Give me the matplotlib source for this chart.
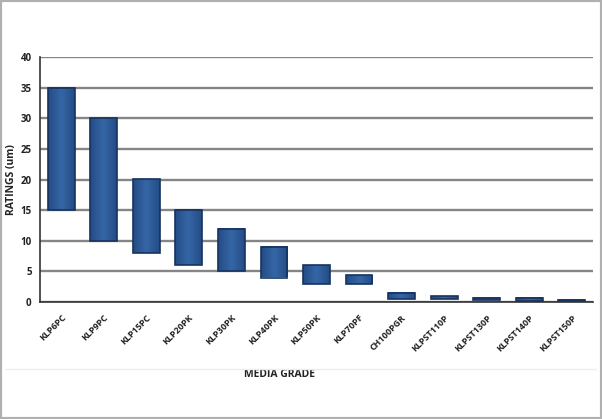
import matplotlib
matplotlib.use("Agg")
import matplotlib.pyplot as plt
import numpy as np
from matplotlib.patches import Rectangle
from matplotlib.colors import LinearSegmentedColormap

categories = ["KLP6PC", "KLP9PC", "KLP15PC", "KLP20PK", "KLP30PK", "KLP40PK", "KLP50PK",
              "KLP70PF", "CH100PGR", "KLPST110P", "KLPST130P", "KLPST140P", "KLPST150P"]
low_values = [15, 10, 8, 6, 5, 4, 3, 3, 0.5, 0.45, 0.3, 0.15, 0.1]
high_values = [35, 30, 20, 15, 12, 9, 6, 4.4, 1.5, 0.9, 0.65, 0.65, 0.3]
y_ticks = [0, 5, 10, 15, 20, 25, 30, 35, 40]

plt.rcParams['font.family'] = ['Open Sans', 'DejaVu Sans']

fig = plt.figure(figsize=(6.02, 4.19), dpi=100)
fig.patch.set_facecolor('white')
fig.patches.append(Rectangle((0, 0), 1, 1, transform=fig.transFigure, fill=False,
                             edgecolor='#b0b0b0', linewidth=3, zorder=10))
fig.add_artist(plt.Line2D([0.01, 0.99], [1 - 369/419, 1 - 369/419], transform=fig.transFigure,
                          color='#ececec', linewidth=1))

ax = fig.add_axes([40/602, 1 - 302/419, (593 - 40)/602, (302 - 57)/419])
x = list(range(len(categories)))
width = 0.63
heights = [h - l for h, l in zip(high_values, low_values)]
cmap = LinearSegmentedColormap.from_list('bar', ['#244c86', '#3566a6', '#244c86'])
grad = np.linspace(0, 1, 64).reshape(1, -1)
for xi, lo, hi in zip(x, low_values, high_values):
    ax.imshow(grad, extent=[xi - width/2, xi + width/2, lo, hi], aspect='auto',
              cmap=cmap, zorder=3, interpolation='bicubic')
ax.bar(x, heights, bottom=low_values, width=width, facecolor='none', edgecolor='#17335e',
       linewidth=1.2, zorder=4)

ax.set_xlim(-0.5, len(categories) - 0.5)
ax.set_ylim(0, 40)
ax.set_yticks(y_ticks)
ax.set_yticklabels([str(v) for v in y_ticks], fontsize=7, fontweight='bold', color='#222222')
ax.set_xticks(x)
ax.set_xticklabels(categories, rotation=45, ha='right', rotation_mode='anchor',
                   fontsize=6.5, fontweight='bold', color='#222222')
ax.tick_params(axis='both', length=0, pad=6)
ax.tick_params(axis='x', pad=8)
ax.yaxis.grid(True, color='#858585', linewidth=1.7, zorder=0)
ax.set_axisbelow(True)
for s in ['top', 'right']:
    ax.spines[s].set_visible(False)
ax.spines['left'].set_color('#333333')
ax.spines['bottom'].set_color('#333333')
ax.spines['left'].set_linewidth(1.2)
ax.spines['bottom'].set_linewidth(1.2)

ax.set_ylabel('RATINGS (um)', fontsize=7.5, fontweight='bold', color='#222222')
ax.yaxis.set_label_coords(-(40 - 17)/553, 0.5)
ax.set_xlabel('MEDIA GRADE', fontsize=7.5, fontweight='bold', color='#222222')
ax.xaxis.set_label_coords((280 - 40)/553, -(369 - 302)/245)

fig.savefig('out.png', dpi=100, facecolor='white')
